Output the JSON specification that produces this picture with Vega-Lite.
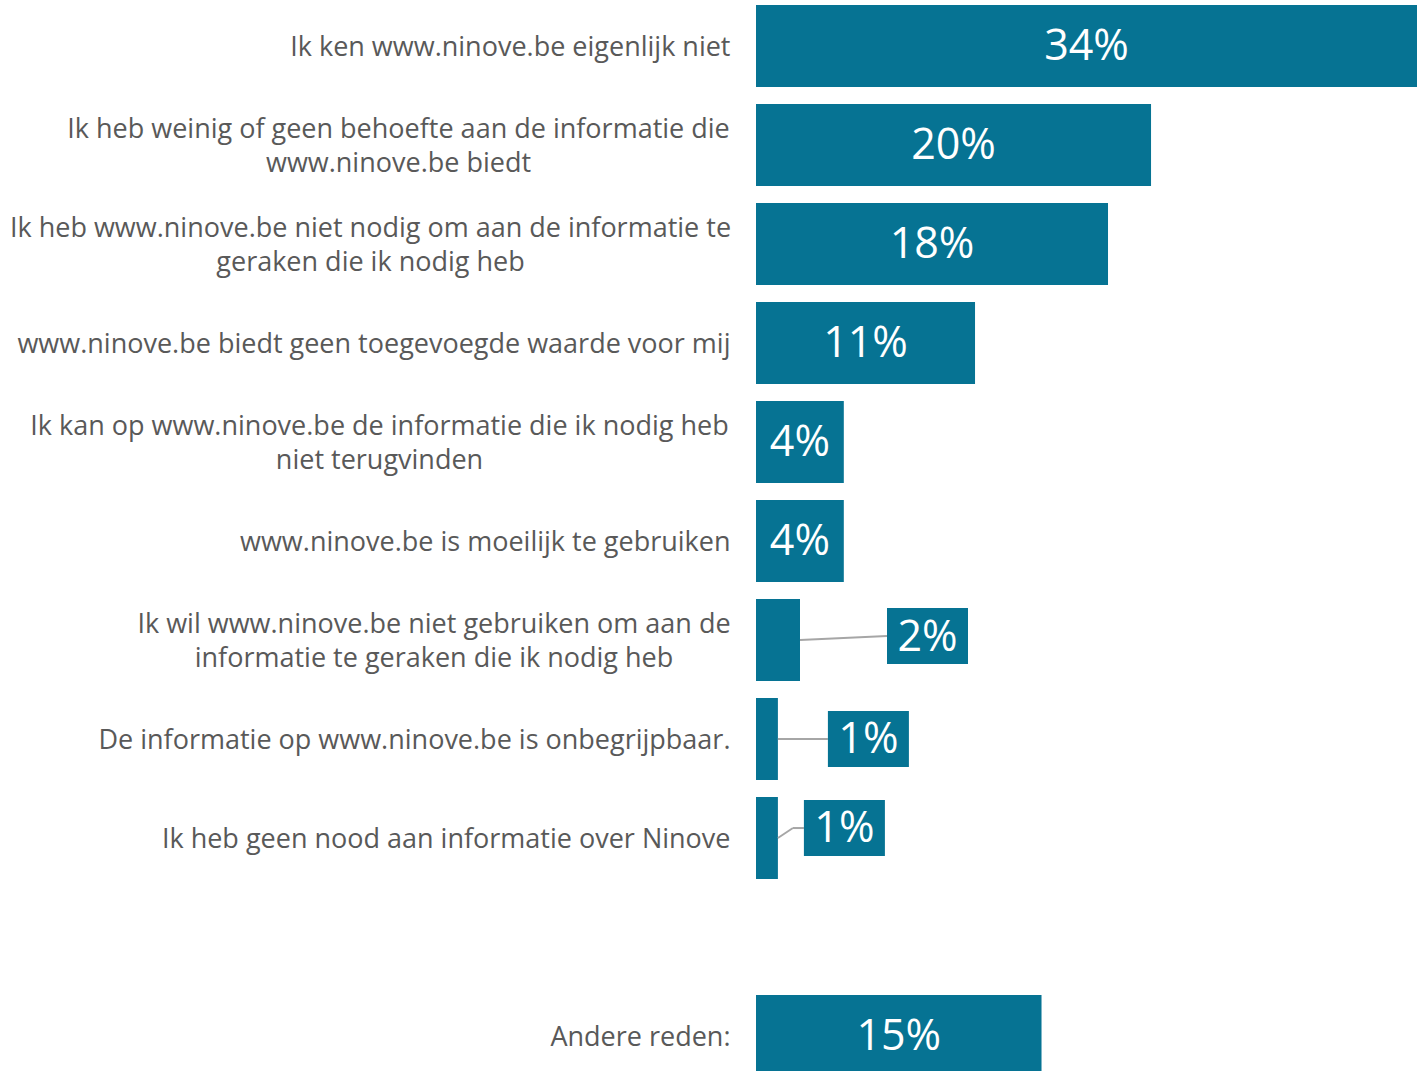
{
  "$schema": "https://vega.github.io/schema/vega-lite/v6.json",
  "width": 661,
  "height": 1082,
  "autosize": {"type": "none"},
  "padding": {"left": 756, "top": 0, "right": 5, "bottom": 0},
  "background": "white",
  "config": {"view": {"stroke": null}, "font": "Open Sans"},
  "data": {
    "values": [
      {"n": 1, "cat": "Ik ken www.ninove.be eigenlijk niet", "value": 0.338},
      {"n": 2, "cat": "Ik heb weinig of geen behoefte aan de informatie die\nwww.ninove.be biedt", "value": 0.202},
      {"n": 3, "cat": "Ik heb www.ninove.be niet nodig om aan de informatie te\ngeraken die ik nodig heb", "value": 0.18},
      {"n": 4, "cat": "www.ninove.be biedt geen toegevoegde waarde voor mij", "value": 0.112},
      {"n": 5, "cat": "Ik kan op www.ninove.be de informatie die ik nodig heb\nniet terugvinden", "value": 0.0449},
      {"n": 6, "cat": "www.ninove.be is moeilijk te gebruiken", "value": 0.0449},
      {"n": 7, "cat": "Ik wil www.ninove.be niet gebruiken om aan de\ninformatie te geraken die ik nodig heb", "value": 0.0225},
      {"n": 8, "cat": "De informatie op www.ninove.be is onbegrijpbaar.", "value": 0.0112},
      {"n": 9, "cat": "Ik heb geen nood aan informatie over Ninove", "value": 0.0112},
      {"n": 11, "cat": "Andere reden:", "value": 0.146}
    ]
  },
  "encoding": {
    "y": {
      "field": "cat",
      "type": "nominal",
      "sort": null,
      "scale": {
        "domain": [
          "Ik ken www.ninove.be eigenlijk niet",
          "Ik heb weinig of geen behoefte aan de informatie die\nwww.ninove.be biedt",
          "Ik heb www.ninove.be niet nodig om aan de informatie te\ngeraken die ik nodig heb",
          "www.ninove.be biedt geen toegevoegde waarde voor mij",
          "Ik kan op www.ninove.be de informatie die ik nodig heb\nniet terugvinden",
          "www.ninove.be is moeilijk te gebruiken",
          "Ik wil www.ninove.be niet gebruiken om aan de\ninformatie te geraken die ik nodig heb",
          "De informatie op www.ninove.be is onbegrijpbaar.",
          "Ik heb geen nood aan informatie over Ninove",
          "",
          "Andere reden:"
        ],
        "paddingInner": 0.172,
        "paddingOuter": 0.05
      },
      "axis": {
        "title": null,
        "domain": false,
        "ticks": false,
        "tickSize": 0,
        "labelPadding": 26,
        "labelOffset": 2,
        "labelFont": "Open Sans",
        "labelFontSize": 27,
        "labelColor": "#595959",
        "labelLimit": 900,
        "labelExpr": "indexof(datum.label, '\\n') >= 0 ? '' : datum.label"
      }
    }
  },
  "layer": [
    {
      "mark": {"type": "bar", "color": "#067393"},
      "encoding": {
        "x": {"field": "value", "type": "quantitative", "scale": {"domain": [0, 0.338], "nice": false, "zero": true}, "axis": null}
      }
    },
    {
      "transform": [{"filter": "datum.value >= 0.04"}, {"calculate": "datum.value / 2", "as": "mid"}],
      "mark": {"type": "text", "color": "white", "fontSize": 43, "font": "Open Sans", "baseline": "middle", "align": "center", "dy": 1},
      "encoding": {
        "x": {"field": "mid", "type": "quantitative"},
        "text": {"field": "value", "type": "quantitative", "format": ".0%"}
      }
    },
    {
      "transform": [{"filter": "datum.n == 7"}],
      "layer": [
        {
          "mark": {"type": "rule", "color": "#A6A6A6", "strokeWidth": 2, "x2Offset": 87, "y2Offset": -4},
          "encoding": {"x": {"field": "value", "type": "quantitative"}, "x2": {"field": "value"}, "y2": {"field": "cat"}}
        },
        {
          "mark": {"type": "bar", "color": "#067393", "size": 56, "xOffset": 87, "x2Offset": 168, "yOffset": -4},
          "encoding": {"x": {"field": "value", "type": "quantitative"}, "x2": {"field": "value"}}
        },
        {
          "mark": {"type": "text", "color": "white", "fontSize": 43, "font": "Open Sans", "baseline": "middle", "align": "center", "dx": 127.5, "dy": -2},
          "encoding": {"x": {"field": "value", "type": "quantitative"}, "text": {"field": "value", "type": "quantitative", "format": ".0%"}}
        }
      ]
    },
    {
      "transform": [{"filter": "datum.n == 8"}],
      "layer": [
        {
          "mark": {"type": "rule", "color": "#A6A6A6", "strokeWidth": 2, "x2Offset": 50},
          "encoding": {"x": {"field": "value", "type": "quantitative"}, "x2": {"field": "value"}}
        },
        {
          "mark": {"type": "bar", "color": "#067393", "size": 56, "xOffset": 50, "x2Offset": 131},
          "encoding": {"x": {"field": "value", "type": "quantitative"}, "x2": {"field": "value"}}
        },
        {
          "mark": {"type": "text", "color": "white", "fontSize": 43, "font": "Open Sans", "baseline": "middle", "align": "center", "dx": 90.5, "dy": 1},
          "encoding": {"x": {"field": "value", "type": "quantitative"}, "text": {"field": "value", "type": "quantitative", "format": ".0%"}}
        }
      ]
    },
    {
      "transform": [{"filter": "datum.n == 9"}],
      "layer": [
        {
          "mark": {"type": "rule", "color": "#A6A6A6", "strokeWidth": 2, "x2Offset": 15, "y2Offset": -10},
          "encoding": {"x": {"field": "value", "type": "quantitative"}, "x2": {"field": "value"}, "y2": {"field": "cat"}}
        },
        {
          "mark": {"type": "rule", "color": "#A6A6A6", "strokeWidth": 2, "xOffset": 15, "x2Offset": 26, "yOffset": -10},
          "encoding": {"x": {"field": "value", "type": "quantitative"}, "x2": {"field": "value"}}
        },
        {
          "mark": {"type": "bar", "color": "#067393", "size": 56, "xOffset": 26, "x2Offset": 107, "yOffset": -10},
          "encoding": {"x": {"field": "value", "type": "quantitative"}, "x2": {"field": "value"}}
        },
        {
          "mark": {"type": "text", "color": "white", "fontSize": 43, "font": "Open Sans", "baseline": "middle", "align": "center", "dx": 66.5, "dy": -9},
          "encoding": {"x": {"field": "value", "type": "quantitative"}, "text": {"field": "value", "type": "quantitative", "format": ".0%"}}
        }
      ]
    },
    {
      "transform": [{"filter": "datum.n == 2"}],
      "mark": {"type": "text", "color": "#595959", "fontSize": 27, "font": "Open Sans", "baseline": "middle", "align": "center", "lineBreak": "\n", "lineHeight": 34, "dx": -357.5, "dy": -15},
      "encoding": {"x": {"datum": 0, "type": "quantitative"}, "text": {"field": "cat"}}
    },
    {
      "transform": [{"filter": "datum.n == 3"}],
      "mark": {"type": "text", "color": "#595959", "fontSize": 27, "font": "Open Sans", "baseline": "middle", "align": "center", "lineBreak": "\n", "lineHeight": 34, "dx": -385.5, "dy": -15},
      "encoding": {"x": {"datum": 0, "type": "quantitative"}, "text": {"field": "cat"}}
    },
    {
      "transform": [{"filter": "datum.n == 5"}],
      "mark": {"type": "text", "color": "#595959", "fontSize": 27, "font": "Open Sans", "baseline": "middle", "align": "center", "lineBreak": "\n", "lineHeight": 34, "dx": -376.5, "dy": -15},
      "encoding": {"x": {"datum": 0, "type": "quantitative"}, "text": {"field": "cat"}}
    },
    {
      "transform": [{"filter": "datum.n == 7"}],
      "mark": {"type": "text", "color": "#595959", "fontSize": 27, "font": "Open Sans", "baseline": "middle", "align": "center", "lineBreak": "\n", "lineHeight": 34, "dx": -322, "dy": -15},
      "encoding": {"x": {"datum": 0, "type": "quantitative"}, "text": {"field": "cat"}}
    }
  ]
}
